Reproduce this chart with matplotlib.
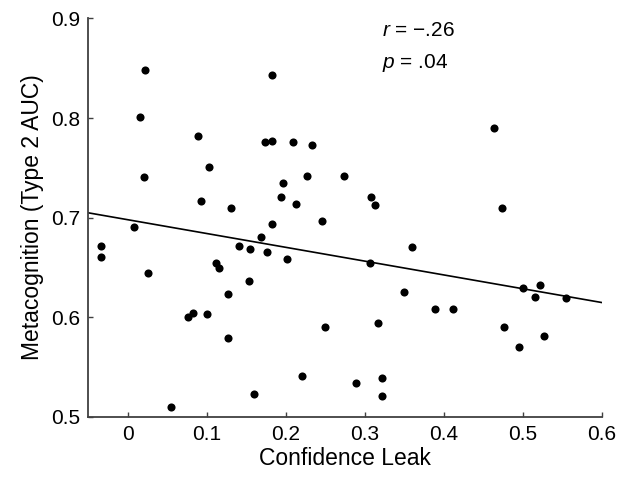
import matplotlib
matplotlib.use("Agg")
import matplotlib.pyplot as plt
import numpy as np

# confidence leak vs metacognition, one point per participant
leak = [0.022, 0.182, 0.016, 0.089, 0.173, 0.182, 0.209, 0.233, 0.103, 0.021,
        0.227, 0.273, 0.196, 0.194, 0.213, 0.093, 0.131, 0.246, 0.463, 0.308,
        0.313, 0.473, 0.008, -0.034, -0.034, 0.025, 0.182, 0.169, 0.141, 0.155,
        0.176, 0.202, 0.111, 0.115, 0.153, 0.127, 0.076, 0.083, 0.100, 0.250,
        0.127, 0.221, 0.160, 0.055, 0.360, 0.306, 0.350, 0.389, 0.412, 0.317,
        0.500, 0.521, 0.515, 0.554, 0.476, 0.527, 0.495, 0.289, 0.321, 0.321]
meta = [0.848, 0.843, 0.801, 0.782, 0.776, 0.777, 0.776, 0.773, 0.751, 0.741,
        0.742, 0.742, 0.735, 0.721, 0.714, 0.717, 0.710, 0.697, 0.790, 0.721,
        0.713, 0.710, 0.691, 0.671, 0.660, 0.644, 0.694, 0.681, 0.671, 0.668,
        0.665, 0.658, 0.654, 0.649, 0.636, 0.623, 0.600, 0.604, 0.603, 0.590,
        0.579, 0.541, 0.523, 0.510, 0.670, 0.654, 0.625, 0.608, 0.608, 0.594,
        0.629, 0.632, 0.620, 0.619, 0.590, 0.581, 0.570, 0.534, 0.539, 0.521]
stats = ["r = \u2212.26", "p = .04"]

plt.rcParams["font.family"] = ["Liberation Sans", "DejaVu Sans"]
plt.rcParams["mathtext.fontset"] = "custom"
plt.rcParams["mathtext.it"] = "Liberation Sans:italic"
plt.rcParams["mathtext.rm"] = "Liberation Sans"

fig = plt.figure(figsize=(6.19, 4.78), dpi=100)
ax = fig.add_axes([0.1427, 0.1282, 0.8298, 0.8331])

ax.scatter(leak, meta, s=34, color="black", zorder=3, linewidths=0)

slope, icpt = np.polyfit(leak, meta, 1)
xs = np.array([-0.05, 0.6])
ax.plot(xs, icpt + slope * xs, color="black", lw=1.2)

ax.set_xlim(-0.05, 0.6)
ax.set_ylim(0.5, 0.9)
ax.set_xticks([0, 0.1, 0.2, 0.3, 0.4, 0.5, 0.6])
ax.set_xticklabels(["0", "0.1", "0.2", "0.3", "0.4", "0.5", "0.6"])
ax.set_yticks([0.5, 0.6, 0.7, 0.8, 0.9])
ax.set_yticklabels(["0.5", "0.6", "0.7", "0.8", "0.9"])

for s in ["top", "right"]:
    ax.spines[s].set_visible(False)
for s in ["left", "bottom"]:
    ax.spines[s].set_color("#404040")
    ax.spines[s].set_linewidth(1.3)
ax.tick_params(direction="in", length=3.5, width=1.0, color="#404040",
               labelsize=15, pad=6)

ax.set_xlabel("Confidence Leak", fontsize=16.5, labelpad=2)
ax.set_ylabel("Metacognition (Type 2 AUC)", fontsize=16.5, labelpad=5)

name, rest = stats[0].split(" ", 1)
ax.text(0.571, 0.957, "$" + name + "$ " + rest, transform=ax.transAxes,
        fontsize=15, va="baseline", ha="left")
name, rest = stats[1].split(" ", 1)
ax.text(0.571, 0.875, "$" + name + "$ " + rest, transform=ax.transAxes,
        fontsize=15, va="baseline", ha="left")

fig.savefig("out.png", dpi=100)
